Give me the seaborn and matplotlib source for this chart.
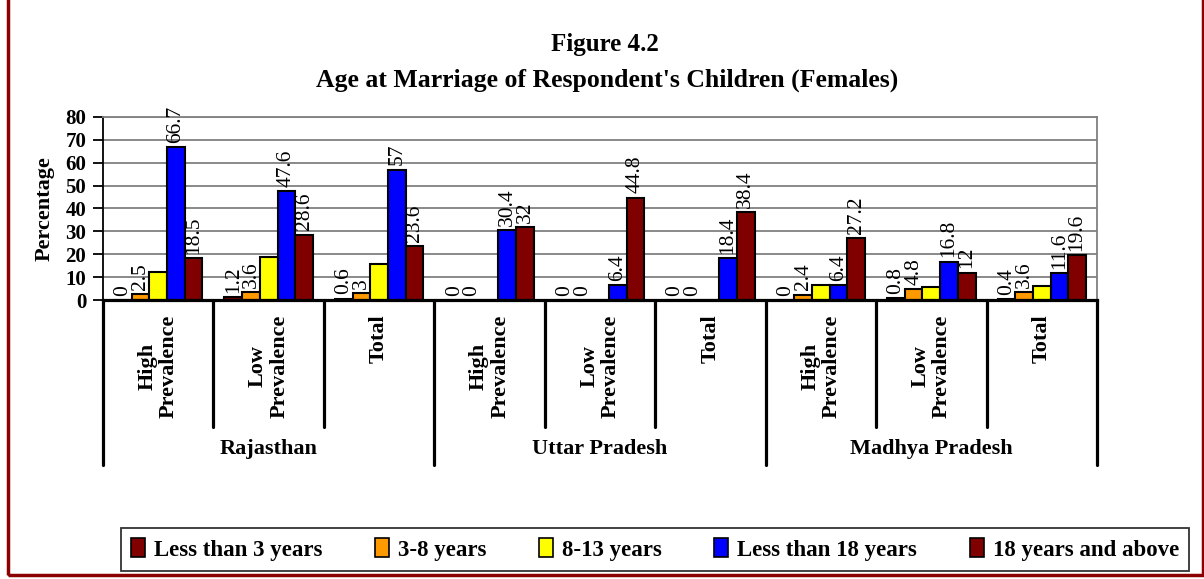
import numpy as np
import pandas as pd
import seaborn as sns
import matplotlib.pyplot as plt
from matplotlib.patches import Rectangle
import matplotlib.transforms as mtransforms

# donnees
states = ["Rajasthan", "Uttar Pradesh", "Madhya Pradesh"]
sub_labels = ["High\nPrevalence", "Low\nPrevalence", "Total"] * 3
series = ["Less than 3 years", "3-8 years", "8-13 years", "Less than 18 years", "18 years and above"]
less_3 = [0, 1.2, 0.6, 0, 0, 0, 0, 0.8, 0.4]
y3_8 = [2.5, 3.6, 3, 0, 0, 0, 2.4, 4.8, 3.6]
y8_13 = [12.4, 18.9, 15.7, 0, 0, 0, 6.4, 5.6, 6.0]  # pas d'etiquettes, estime
less_18 = [66.7, 47.6, 57, 30.4, 6.4, 18.4, 6.4, 16.8, 11.6]
y18_plus = [18.5, 28.6, 23.6, 32, 44.8, 38.4, 27.2, 12, 19.6]
colors = ["#800000", "#FF9900", "#FFFF00", "#0000FF", "#800000"]

cats = [f"c{i}" for i in range(9)]
rows = []
for name, vals in zip(series, [less_3, y3_8, y8_13, less_18, y18_plus]):
    for c, v in zip(cats, vals):
        rows.append({"cat": c, "serie": name, "val": v})
df = pd.DataFrame(rows)

sns.set_style("white")
plt.rcParams["font.family"] = ["Liberation Serif", "DejaVu Serif"]
plt.rcParams["text.color"] = "black"
plt.rcParams["axes.labelcolor"] = "black"
plt.rcParams["ytick.color"] = "black"

fig = plt.figure(figsize=(12.04, 5.79), dpi=100)
ax = fig.add_axes([103 / 1204, 1 - 300 / 579, (1097 - 103) / 1204, 183 / 579])

sns.barplot(data=df, x="cat", y="val", hue="serie", hue_order=series, order=cats,
            palette=colors, saturation=1, edgecolor="black", linewidth=1.5, width=0.8, ax=ax)

# etiquettes de valeurs (pas pour 8-13 ans)
for k, cont in enumerate(ax.containers):
    if k == 2:
        continue
    vals = [less_3, y3_8, y8_13, less_18, y18_plus][k]
    ax.bar_label(cont, labels=[f"{v:g}" for v in vals], rotation=90, padding=3,
                 fontsize=15.5, color="black")

ax.set_xlim(-0.5, 8.5)
ax.set_ylim(0, 80)
ax.set_yticks(range(0, 81, 10))
ax.yaxis.grid(True, color="#808080", linewidth=1.3)
ax.set_axisbelow(True)
ax.set_xticks([])
ax.set_xlabel("")
ax.set_ylabel("Percentage", fontsize=16, fontweight="bold", labelpad=8)
ax.tick_params(axis="y", direction="out", length=7, width=1.3, labelsize=15, left=True, pad=5)
for t in ax.get_yticklabels():
    t.set_fontweight("bold")
ax.spines["left"].set_color("black")
ax.spines["left"].set_linewidth(1.3)
ax.spines["bottom"].set_color("black")
ax.spines["bottom"].set_linewidth(2.3)
ax.spines["top"].set_color("#808080")
ax.spines["right"].set_color("#808080")
ax.spines["top"].set_linewidth(1.3)
ax.spines["right"].set_linewidth(1.3)

# axe des categories a deux niveaux
trans = mtransforms.blended_transform_factory(ax.transData, ax.transAxes)
for i in range(10):
    x = i - 0.5
    y_end = -0.902 if i % 3 == 0 else -0.694
    ax.plot([x, x], [0, y_end], color="black", lw=2.3, transform=trans, clip_on=False)
for i, lab in enumerate(sub_labels):
    ax.text(i, -0.08, lab, transform=trans, rotation=90, ha="center", va="top",
            multialignment="center", fontsize=16, fontweight="bold", linespacing=1.1)
for j, st in enumerate(states):
    ax.text(3 * j + 1, -0.814, st, transform=trans, ha="center", va="center",
            fontsize=16, fontweight="bold")

fig.text(605 / 1204, 1 - 45 / 579, "Figure 4.2", ha="center", va="center",
         fontsize=18, fontweight="bold")
fig.text(607 / 1204, 1 - 80 / 579, "Age at Marriage of Respondent's Children (Females)",
         ha="center", va="center", fontsize=18.5, fontweight="bold")

handles, labels = ax.get_legend_handles_labels()
ax.get_legend().remove()
leg = fig.legend(handles, labels, loc="center", bbox_to_anchor=(655 / 1204, 1 - 549.5 / 579),
                 ncol=5, frameon=True, fancybox=False, edgecolor="black",
                 handlelength=0.6, handleheight=0.9, handletextpad=0.4,
                 columnspacing=2.3, prop={"size": 16.5, "weight": "bold"},
                 borderpad=0.45)
leg.get_frame().set_linewidth(1.3)
for h in leg.legend_handles:
    h.set_edgecolor("black")
    h.set_linewidth(1.2)

# cadre rouge fonce autour
fig.patches.append(Rectangle((8 / 1204, 4 / 579), 1195 / 1204, 1.2, transform=fig.transFigure,
                             fill=False, edgecolor="#8B0000", linewidth=2.5))

fig.savefig("out.png", dpi=100)
